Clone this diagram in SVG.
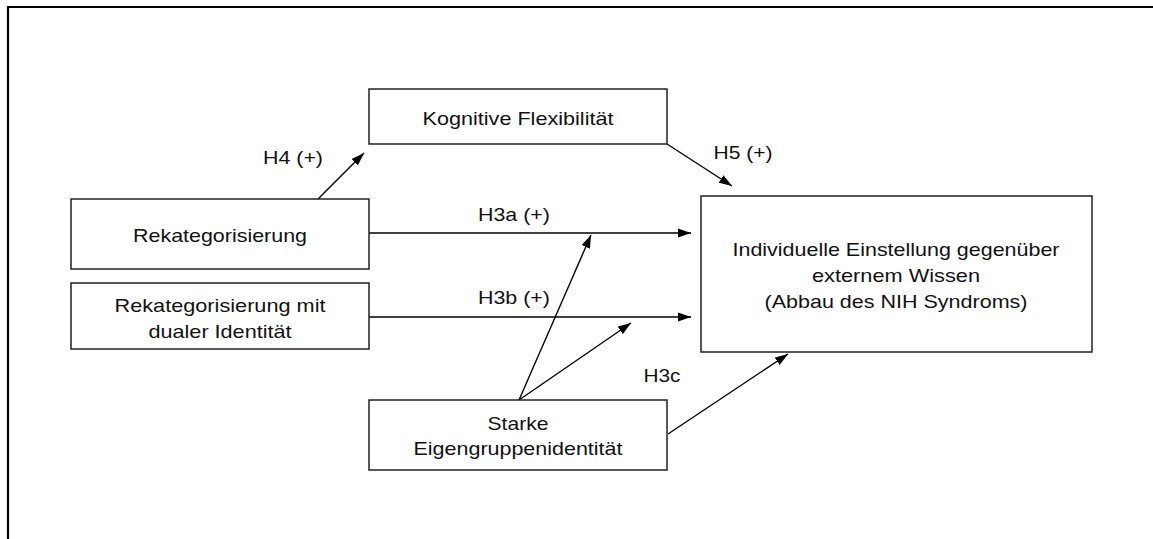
<svg xmlns="http://www.w3.org/2000/svg" width="1153" height="539" viewBox="0 0 1153 539">
<style>
.box{fill:#fff;stroke:#222;stroke-width:1.5}
.t{font-family:"Liberation Sans",Arial,sans-serif;font-size:19px;fill:#111;text-anchor:middle}
.l{font-family:"Liberation Sans",Arial,sans-serif;font-size:19px;fill:#111}
.c{stroke:#000;stroke-width:1.4;fill:none;marker-end:url(#ah)}
</style>
<defs>
<marker id="ah" markerUnits="userSpaceOnUse" markerWidth="14" markerHeight="10" refX="13" refY="5" orient="auto">
<path d="M0,0.5 L13,5 L0,9.5 Z" fill="#000"/>
</marker>
</defs>
<rect x="0" y="0" width="1153" height="539" fill="#fff"/>
<path d="M8,545 V7 H1160" fill="none" stroke="#000" stroke-width="2.2"/>
<g id="connectors">
<line class="c" x1="318" y1="199" x2="364" y2="153"/>
<line class="c" x1="667" y1="144" x2="732" y2="186"/>
<line class="c" x1="369" y1="233" x2="691" y2="233"/>
<line class="c" x1="369" y1="317" x2="691" y2="317"/>
<line class="c" x1="519" y1="400" x2="591" y2="235"/>
<line class="c" x1="519" y1="400" x2="631" y2="323"/>
<line class="c" x1="668" y1="434" x2="788" y2="354"/>
<text class="l" x="263" y="163.5" textLength="60" lengthAdjust="spacingAndGlyphs">H4 (+)</text>
<text class="l" x="713.5" y="158.5" textLength="59" lengthAdjust="spacingAndGlyphs">H5 (+)</text>
<text class="l" x="478" y="221" textLength="72" lengthAdjust="spacingAndGlyphs">H3a (+)</text>
<text class="l" x="478" y="303.5" textLength="72" lengthAdjust="spacingAndGlyphs">H3b (+)</text>
<text class="l" x="643.5" y="382" textLength="37" lengthAdjust="spacingAndGlyphs">H3c</text>
</g>
<g id="kognitive">
<rect class="box" x="369" y="89" width="298" height="55"/>
<text class="t" x="518" y="125" textLength="191" lengthAdjust="spacingAndGlyphs">Kognitive Flexibilität</text>
</g>
<g id="rekategorisierung">
<rect class="box" x="71" y="199" width="298" height="70"/>
<text class="t" x="220" y="242" textLength="174" lengthAdjust="spacingAndGlyphs">Rekategorisierung</text>
</g>
<g id="duale">
<rect class="box" x="71" y="283" width="298" height="66"/>
<text class="t" x="220" y="312" textLength="211" lengthAdjust="spacingAndGlyphs">Rekategorisierung mit</text>
<text class="t" x="220" y="338" textLength="143" lengthAdjust="spacingAndGlyphs">dualer Identität</text>
</g>
<g id="einstellung">
<rect class="box" x="701" y="196" width="391" height="156"/>
<text class="t" x="896" y="256" textLength="327" lengthAdjust="spacingAndGlyphs">Individuelle Einstellung gegenüber</text>
<text class="t" x="896" y="282" textLength="168" lengthAdjust="spacingAndGlyphs">externem Wissen</text>
<text class="t" x="896" y="308" textLength="263" lengthAdjust="spacingAndGlyphs">(Abbau des NIH Syndroms)</text>
</g>
<g id="starke">
<rect class="box" x="369" y="400" width="298" height="70"/>
<text class="t" x="518" y="429.5" textLength="61" lengthAdjust="spacingAndGlyphs">Starke</text>
<text class="t" x="518" y="455" textLength="209" lengthAdjust="spacingAndGlyphs">Eigengruppenidentität</text>
</g>
</svg>
